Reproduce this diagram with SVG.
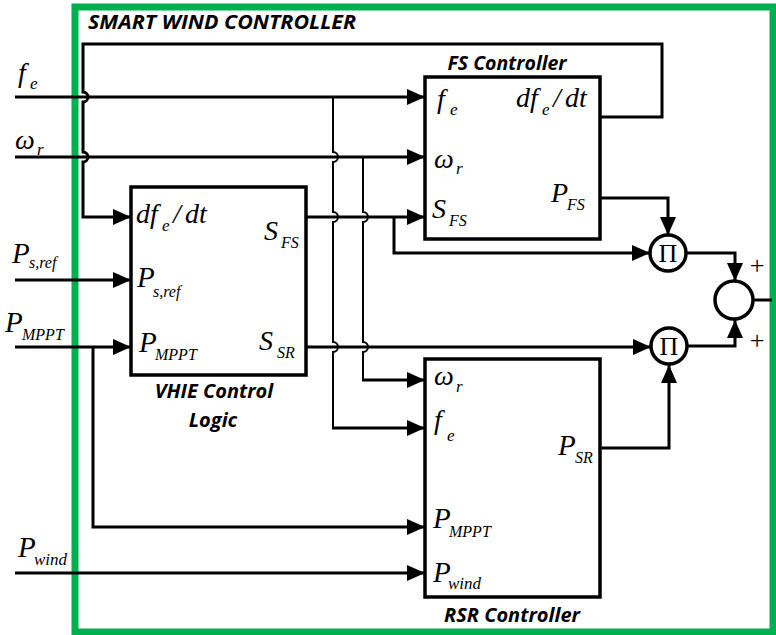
<svg xmlns="http://www.w3.org/2000/svg" width="776" height="635" viewBox="0 0 776 635">
<defs>
<marker id="arr" markerUnits="userSpaceOnUse" markerWidth="18" markerHeight="16" refX="18" refY="8" orient="auto">
<path d="M0,0 L18,8 L0,16 z" fill="#000"/>
</marker>
<style>
.w{fill:none;stroke:#000;stroke-width:3}
.t{fill:none;stroke:#000;stroke-width:2}
.box{fill:#fff;stroke:#000;stroke-width:3.5}
.m{font-family:"Liberation Serif","Times New Roman",serif;font-style:italic;fill:#000}
.s{font-family:"Liberation Serif","Times New Roman",serif;font-style:italic;fill:#000}
.h{font-family:"Open Sans","Liberation Sans",sans-serif;font-style:italic;font-weight:bold;fill:#000;text-anchor:middle}
.c{fill:#fff;stroke:#000;stroke-width:3.5}
.u{font-family:"Liberation Serif","Times New Roman",serif;fill:#000;text-anchor:middle}
</style>
</defs>
<rect x="0" y="0" width="776" height="635" fill="#fff"/>
<rect id="frame" x="75" y="7" width="698" height="625" fill="none" stroke="#00B050" stroke-width="7"/>
<text class="h" x="222" y="29" font-size="20" textLength="268" lengthAdjust="spacingAndGlyphs">SMART WIND CONTROLLER</text>

<g id="connectors">
<path class="w" d="M15,97 H425" marker-end="url(#arr)"/>
<path class="w" d="M15,157 H425" marker-end="url(#arr)"/>
<path class="w" d="M15,280 H131" marker-end="url(#arr)"/>
<path class="w" d="M15,347 H131" marker-end="url(#arr)"/>
<path class="w" d="M93,347 V527 H425" marker-end="url(#arr)"/>
<path class="w" d="M15,573 H425" marker-end="url(#arr)"/>
<path class="w" d="M600,117 H662 V44 H83 V92 a5,5 0 0 1 0,10 V152 a5,5 0 0 1 0,10 V217 H131" marker-end="url(#arr)"/>
<path class="w" d="M306,217 H425" marker-end="url(#arr)"/>
<path class="w" d="M394,217 V253 H650" marker-end="url(#arr)"/>
<path class="w" d="M306,347 H651" marker-end="url(#arr)"/>
<path class="t" d="M333,97 V152 a5,5 0 0 1 0,10 V212 a5,5 0 0 1 0,10 V342 a5,5 0 0 1 0,10 V428" />
<path class="w" d="M332,428 H425" marker-end="url(#arr)"/>
<path class="t" d="M363,157 V212 a5,5 0 0 1 0,10 V342 a5,5 0 0 1 0,10 V380" />
<path class="w" d="M362,380 H425" marker-end="url(#arr)"/>
<path class="w" d="M600,198 H668 V235" marker-end="url(#arr)"/>
<path class="w" d="M600,448 H669 V365" marker-end="url(#arr)"/>
<path class="w" d="M686,253 H735 V281" marker-end="url(#arr)"/>
<path class="w" d="M687,346 H735 V320" marker-end="url(#arr)"/>
<path class="w" d="M754,300 H772"/>
</g>

<g id="inputs">
<text class="m" x="18" y="82" font-size="28">f</text><text class="s" x="30" y="89" font-size="17">e</text>
<text class="m" x="15" y="149" font-size="28">ω</text><text class="s" x="37" y="155" font-size="17">r</text>
<text class="m" x="12" y="263" font-size="29">P</text><text class="s" x="29" y="268" font-size="16">s,ref</text>
<text class="m" x="5" y="332" font-size="29">P</text><text class="s" x="22" y="340" font-size="16">MPPT</text>
<text class="m" x="18" y="557" font-size="29">P</text><text class="s" x="34" y="565" font-size="17">wind</text>
</g>

<g id="fs-controller">
<rect class="box" x="425" y="77" width="175" height="162"/>
<text class="h" x="507" y="70" font-size="19.5">FS Controller</text>
<text class="m" x="437" y="108" font-size="28">f</text><text class="s" x="450" y="115" font-size="17">e</text>
<text class="m" x="516" y="107" font-size="28">df</text><text class="s" x="542" y="115" font-size="17">e</text><text class="m" x="553" y="107" font-size="28">/</text><text class="m" x="565" y="107" font-size="28">dt</text>
<text class="m" x="434" y="168" font-size="28">ω</text><text class="s" x="456" y="174" font-size="17">r</text>
<text class="m" x="432" y="218" font-size="28">S</text><text class="s" x="449" y="226" font-size="16">FS</text>
<text class="m" x="551" y="202" font-size="28">P</text><text class="s" x="567" y="210" font-size="16">FS</text>
</g>

<g id="vhie-logic">
<rect class="box" x="131" y="187" width="175" height="188"/>
<text class="m" x="136" y="223" font-size="28">df</text><text class="s" x="162" y="231" font-size="17">e</text><text class="m" x="173" y="223" font-size="28">/</text><text class="m" x="185" y="223" font-size="28">dt</text>
<text class="m" x="264" y="240" font-size="28">S</text><text class="s" x="281" y="248" font-size="16">FS</text>
<text class="m" x="137" y="287" font-size="29">P</text><text class="s" x="153" y="297" font-size="16">s,ref</text>
<text class="m" x="139" y="352" font-size="29">P</text><text class="s" x="155" y="360" font-size="16">MPPT</text>
<text class="m" x="259" y="350" font-size="28">S</text><text class="s" x="277" y="358" font-size="16">SR</text>
<text class="h" x="214" y="398" font-size="20">VHIE Control</text>
<text class="h" x="213" y="427" font-size="20">Logic</text>
</g>

<g id="rsr-controller">
<rect class="box" x="425" y="359" width="175" height="238"/>
<text class="h" x="512" y="622" font-size="20">RSR Controller</text>
<text class="m" x="434" y="385" font-size="28">ω</text><text class="s" x="456" y="392" font-size="17">r</text>
<text class="m" x="434" y="429" font-size="28">f</text><text class="s" x="447" y="441" font-size="17">e</text>
<text class="m" x="558" y="455" font-size="29">P</text><text class="s" x="575" y="463" font-size="16">SR</text>
<text class="m" x="433" y="528" font-size="29">P</text><text class="s" x="449" y="537" font-size="16">MPPT</text>
<text class="m" x="433" y="582" font-size="29">P</text><text class="s" x="448" y="589" font-size="17">wind</text>
</g>

<g id="product-fs">
<circle class="c" cx="668" cy="253" r="18"/>
<text class="u" x="668" y="262" font-size="26">Π</text>
</g>
<g id="product-sr">
<circle class="c" cx="669" cy="346" r="18"/>
<text class="u" x="669" y="355" font-size="26">Π</text>
</g>
<g id="sum">
<circle class="c" cx="734" cy="300" r="19"/>
<text class="u" x="757" y="274" font-size="26">+</text>
<text class="u" x="757" y="349" font-size="26">+</text>
</g>
</svg>
